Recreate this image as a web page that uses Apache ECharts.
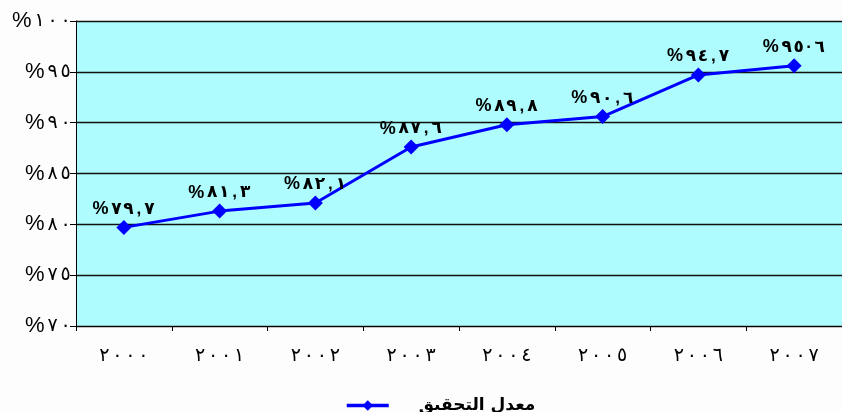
<!DOCTYPE html>
<html>
<head>
<meta charset="utf-8">
<script src="https://cdn.jsdelivr.net/npm/echarts@6/dist/echarts.min.js"></script>
<style>
  html, body { margin: 0; padding: 0; background: #fdfdfd; }
  #chart { width: 842px; height: 412px; }
</style>
</head>
<body>
<div id="chart"></div>
<script>
// Achievement rate by year
const years = ['٢٠٠٠', '٢٠٠١', '٢٠٠٢', '٢٠٠٣', '٢٠٠٤', '٢٠٠٥', '٢٠٠٦', '٢٠٠٧'];
const rates = [79.7, 81.3, 82.1, 87.6, 89.8, 90.6, 94.7, 95.6];
const rateLabels = ['%٧٩,٧', '%٨١,٣', '%٨٢,١', '%٨٧,٦', '%٨٩,٨', '%٩٠,٦', '%٩٤,٧', '%٩٥·٦'];
const yTickLabels = { 70: '%٧٠', 75: '%٧٥', 80: '%٨٠', 85: '%٨٥', 90: '%٩٠', 95: '%٩٥', 100: '%١٠٠' };
const seriesName = 'معدل التحقيق';

const font = '"Liberation Sans", "DejaVu Sans", sans-serif';

// Lay a label out glyph by glyph (left to right) so digits get even, generous spacing.
function spaced(str) {
  return Array.from(str).map(ch => {
    if (ch === '%') return '{p|%}';
    if (ch === ',' || ch === '·') return '{s|' + ch + '}';
    return '{d|' + ch + '}';
  }).join('');
}

const chart = echarts.init(document.getElementById('chart'));
chart.setOption({
  backgroundColor: '#fdfdfd',
  animation: false,
  grid: {
    left: 76, top: 21, width: 773, height: 305,
    show: true, backgroundColor: '#aefcfe', borderWidth: 0
  },
  legend: {
    top: 392, left: 340,
    itemWidth: 42, itemHeight: 13,
    lineStyle: { width: 3.5 },
    textStyle: {
      fontFamily: '"DejaVu Sans", sans-serif', fontWeight: 'bold', fontSize: 17, color: '#000',
      padding: [0, 0, 0, 25]
    },
    data: [seriesName]
  },
  xAxis: {
    type: 'category',
    data: years,
    boundaryGap: true,
    axisLine: { lineStyle: { color: '#000', width: 1 } },
    axisTick: { show: true, alignWithLabel: false, interval: 0, length: 5, lineStyle: { color: '#000' } },
    axisLabel: {
      interval: 0, margin: 20, color: '#000',
      formatter: v => spaced(v),
      rich: {
        d: { fontSize: 19, fontFamily: font, color: '#000', width: 13, align: 'center' }
      }
    },
    splitLine: { show: false }
  },
  yAxis: {
    type: 'value',
    min: 70, max: 100, interval: 5,
    axisLine: { show: true, lineStyle: { color: '#000', width: 1 } },
    axisTick: { show: true, inside: false, length: 6, lineStyle: { color: '#000' } },
    axisLabel: {
      margin: 4, color: '#000',
      formatter: v => yTickLabels[v] ? spaced(yTickLabels[v]) : '',
      rich: {
        p: { fontSize: 22, fontFamily: font, color: '#000', width: 21, align: 'left' },
        d: { fontSize: 19, fontFamily: font, color: '#000', width: 13, align: 'center' }
      }
    },
    splitLine: { show: true, lineStyle: { color: '#111', width: 1.3 } }
  },
  series: [{
    name: seriesName,
    type: 'line',
    data: rates,
    symbol: 'diamond',
    symbolSize: 15,
    itemStyle: { color: '#0000ff' },
    lineStyle: { color: '#0000ff', width: 3 },
    label: {
      show: true, position: 'top', distance: 2,
      formatter: p => spaced(rateLabels[p.dataIndex]),
      rich: {
        p: { fontSize: 18, fontWeight: 'bold', fontFamily: font, color: '#000', width: 18, align: 'left' },
        d: { fontSize: 17, fontWeight: 'bold', fontFamily: font, color: '#000', width: 12, align: 'center' },
        s: { fontSize: 17, fontWeight: 'bold', fontFamily: font, color: '#000', width: 9, align: 'center' }
      }
    }
  }]
});
</script>
</body>
</html>
